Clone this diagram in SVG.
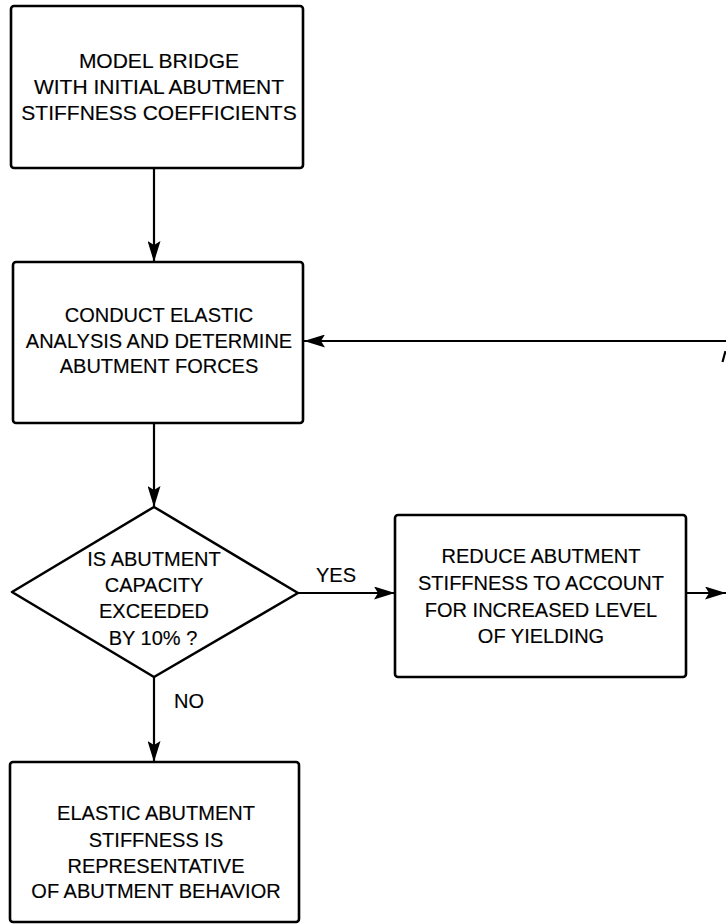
<svg xmlns="http://www.w3.org/2000/svg" width="726" height="924" viewBox="0 0 726 924">
  <style>
    .box { fill: #ffffff; stroke: #000000; stroke-width: 2.6; }
    .wire { fill: none; stroke: #000000; stroke-width: 2.2; }
    .label { font-family: "Liberation Sans", Arial, sans-serif; font-size: 20px; fill: #000000; stroke: #000000; stroke-width: 0.15; text-anchor: middle; }
  </style>
  <defs>
    <marker id="arrow" viewBox="0 0 21 13" refX="21" refY="6.5" markerWidth="21" markerHeight="13" markerUnits="userSpaceOnUse" orient="auto">
      <path d="M0,0 L21,6.5 L0,13 L4,6.5 Z" fill="#000000"/>
    </marker>
  </defs>
  <rect width="726" height="924" fill="#ffffff"/>

  <g id="connectors">
    <line class="wire" x1="154" y1="168" x2="154" y2="262" marker-end="url(#arrow)"/>
    <line class="wire" x1="154" y1="423" x2="154" y2="507" marker-end="url(#arrow)"/>
    <line class="wire" x1="298" y1="593" x2="395" y2="593" marker-end="url(#arrow)"/>
    <line class="wire" x1="686" y1="593" x2="726" y2="593" marker-end="url(#arrow)"/>
    <line class="wire" x1="154" y1="677" x2="154" y2="762" marker-end="url(#arrow)"/>
    <line class="wire" x1="726" y1="341" x2="304" y2="341" marker-end="url(#arrow)"/>
    <line class="wire" x1="722.5" y1="362" x2="725.5" y2="351" stroke-width="2.5"/>
    <text class="label" x="336" y="582">YES</text>
    <text class="label" x="189" y="708">NO</text>
  </g>

  <g id="model-bridge">
    <rect class="box" x="11" y="6" width="292" height="162" rx="3"/>
    <text class="label" x="159" y="68" style="font-size:21px">MODEL BRIDGE</text>
    <text class="label" x="159" y="94" style="font-size:21px">WITH INITIAL ABUTMENT</text>
    <text class="label" x="159" y="120" style="font-size:21px">STIFFNESS COEFFICIENTS</text>
  </g>

  <g id="elastic-analysis">
    <rect class="box" x="13" y="262" width="290" height="161" rx="3"/>
    <text class="label" x="159" y="322">CONDUCT ELASTIC</text>
    <text class="label" x="159" y="348">ANALYSIS AND DETERMINE</text>
    <text class="label" x="159" y="373">ABUTMENT FORCES</text>
  </g>

  <g id="capacity-check">
    <polygon class="box" points="154,507 298,593 154,677 12,592" stroke-linejoin="round"/>
    <text class="label" x="154" y="566">IS ABUTMENT</text>
    <text class="label" x="154" y="592">CAPACITY</text>
    <text class="label" x="154" y="618">EXCEEDED</text>
    <text class="label" x="153" y="645">BY 10% ?</text>
  </g>

  <g id="reduce-stiffness">
    <rect class="box" x="395" y="515" width="291" height="162" rx="3"/>
    <text class="label" x="541" y="563">REDUCE ABUTMENT</text>
    <text class="label" x="541" y="590">STIFFNESS TO ACCOUNT</text>
    <text class="label" x="541" y="617">FOR INCREASED LEVEL</text>
    <text class="label" x="541" y="643">OF YIELDING</text>
  </g>

  <g id="elastic-representative">
    <rect class="box" x="10" y="762" width="289" height="160" rx="3"/>
    <text class="label" x="156" y="820">ELASTIC ABUTMENT</text>
    <text class="label" x="156" y="847">STIFFNESS IS</text>
    <text class="label" x="156" y="873">REPRESENTATIVE</text>
    <text class="label" x="156" y="898">OF ABUTMENT BEHAVIOR</text>
  </g>
</svg>
